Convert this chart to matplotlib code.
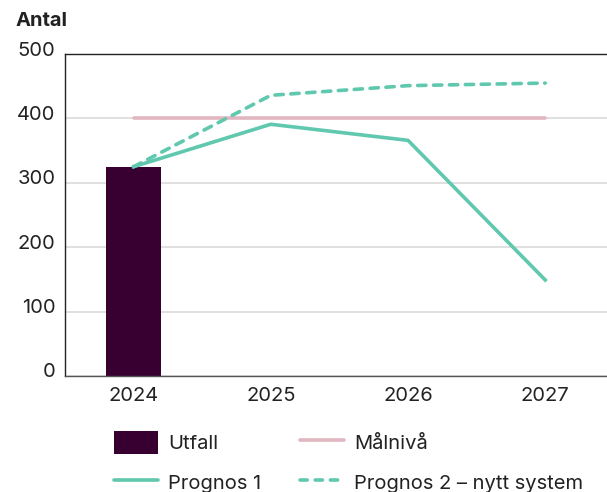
import matplotlib.pyplot as plt
import matplotlib.transforms as mtransforms
from matplotlib.lines import Line2D
from matplotlib.patches import Patch

plt.rcParams["font.family"] = ["Inter", "DejaVu Sans"]

years = ["2024", "2025", "2026", "2027"]
utfall = [324]
target = [400, 400, 400, 400]
prognos1 = [325, 391, 366, 149]
prognos2 = [325, 436, 451, 455]

bar_color = "#380030"
teal = "#5fc8ae"
pink = "#e2b6bf"
fs = 14.5

x = list(range(len(years)))

fig = plt.figure(figsize=(6.07, 4.92), dpi=100)
ax = fig.add_axes([0.107, 0.236, 0.893, 0.654])

ax.bar(x[:1], utfall, width=0.4, color=bar_color, zorder=2)
ax.plot(x, target, color=pink, linewidth=2.6, solid_capstyle="round", zorder=3)
ax.plot(x, prognos1, color=teal, linewidth=2.6, zorder=4)
ax.plot(x, prognos2, color=teal, linewidth=2.6, linestyle=(0, (2.3, 2.1)),
        dash_capstyle="round", zorder=4)

ax.set_xlim(-0.5, 3.45)
ax.set_ylim(0, 500)
ax.set_yticks([0, 100, 200, 300, 400, 500])
ax.set_xticks(x)
ax.set_xticklabels(years)
ax.grid(axis="y", color="#dddddd", linewidth=1.3, zorder=0)
ax.tick_params(axis="both", length=0, labelsize=fs, colors="#222222")
ax.tick_params(axis="x", pad=8)
ax.tick_params(axis="y", pad=7)

offset = mtransforms.ScaledTranslation(0, 4 / 72, fig.dpi_scale_trans)
for lbl in ax.get_yticklabels():
    lbl.set_transform(lbl.get_transform() + offset)

ax.spines["right"].set_visible(False)
ax.spines["top"].set_color("#222222")
ax.spines["left"].set_color("#222222")
ax.spines["bottom"].set_color("#555555")
for s in ["top", "left", "bottom"]:
    ax.spines[s].set_linewidth(1.0)

fig.text(0.026, 0.957, "Antal", fontsize=fs, fontweight="bold", color="#222222",
         va="center", ha="left")

handles = [
    Patch(facecolor=bar_color),
    Line2D([], [], color=teal, linewidth=2.6, solid_capstyle="round"),
    Line2D([], [], color=pink, linewidth=2.6, solid_capstyle="round"),
    Line2D([], [], color=teal, linewidth=2.6, linestyle=(0, (2.0, 2.2)),
           dash_capstyle="round"),
]
labels = ["Utfall", "Prognos 1", "Målnivå", "Prognos 2 – nytt system"]
fig.legend(handles, labels, ncol=2, loc="center left", bbox_to_anchor=(0.158, 0.06),
           frameon=False, fontsize=fs, handlelength=2.2, handleheight=1.4,
           columnspacing=1.9, labelspacing=0.8, handletextpad=0.5,
           labelcolor="#222222")

fig.savefig("out.png", dpi=100)
